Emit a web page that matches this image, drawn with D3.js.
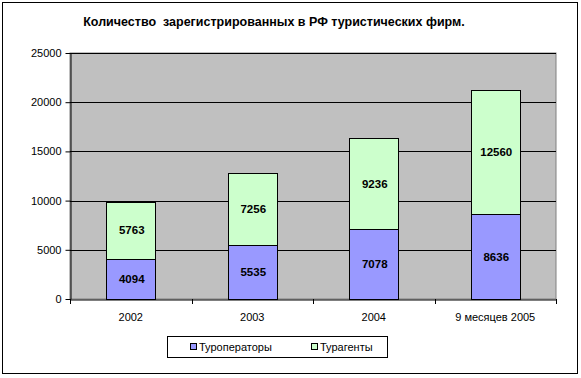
<!DOCTYPE html>
<html><head><meta charset="utf-8">
<script src="https://cdn.jsdelivr.net/npm/d3@7"></script>
<style>body{margin:0;background:#fff}svg{display:block}text{font-family:"Liberation Sans",Arial,sans-serif}</style>
</head><body>
<script>
const categories = ["2002","2003","2004","9 месяцев 2005"];
const touroperators = [4094,5535,7078,8636];
const touragents = [5763,7256,9236,12560];
const seriesNames = ["Туроператоры","Турагенты"];
const seriesColors = ["#9999FF","#CCFFCC"];
const yTicks = [0,5000,10000,15000,20000,25000];
const title = "Количество  зарегистрированных в РФ туристических фирм.";

const W=581,H=378;
const svg=d3.select("body").append("svg").attr("width",W).attr("height",H);
svg.append("rect").attr("x",2.5).attr("y",2.5).attr("width",575).attr("height",371).attr("fill","#fff").attr("stroke","#000").attr("stroke-width",1);

const L=70,R=556,T=53,B=299;
const x=d3.scaleBand().domain(categories).range([L,R]).paddingInner(0.6).paddingOuter(0.3);
const xs=d3.scaleBand().domain(categories).range([L,R]);
const y=d3.scaleLinear().domain([0,25000]).range([B,T]);

svg.append("rect").attr("x",L).attr("y",T).attr("width",R-L).attr("height",B-T).attr("fill","#C0C0C0").attr("stroke","#808080");
svg.append("g").selectAll("line").data(yTicks.slice(1)).join("line")
 .attr("x1",L).attr("x2",R).attr("y1",d=>Math.round(y(d))+0.5).attr("y2",d=>Math.round(y(d))+0.5).attr("stroke","#000");

const stack=d3.stack().keys([0,1]).value((d,k)=>k===0?d.a:d.b)(categories.map((c,i)=>({c,a:touroperators[i],b:touragents[i]})));
const g=svg.append("g");
stack.forEach((s,si)=>{
  g.selectAll(null).data(s).join("rect")
   .attr("x",d=>Math.round(x(d.data.c))+0.5).attr("width",Math.round(x.bandwidth()))
   .attr("y",d=>Math.round(y(d[1]))+0.5).attr("height",d=>Math.round(y(d[0]))-Math.round(y(d[1])))
   .attr("fill",seriesColors[si]).attr("stroke","#000");
  g.selectAll(null).data(s).join("text")
   .attr("x",d=>x(d.data.c)+x.bandwidth()/2+1).attr("y",d=>(y(d[0])+y(d[1]))/2+4)
   .attr("text-anchor","middle").attr("font-size","11.5px").attr("font-weight","bold")
   .text(d=>d[1]-d[0]);
});

const ya=svg.append("g").attr("transform",`translate(${L+0.5},0)`)
 .call(d3.axisLeft(y).tickValues(yTicks).tickSize(5).tickSizeOuter(0).tickFormat(d3.format("d")));
ya.select(".domain").attr("stroke","#000");
ya.selectAll("text").attr("font-size","11px").attr("font-family","Liberation Sans, Arial").attr("fill","#000").attr("dx","-1");
ya.selectAll("line").attr("stroke","#000");

const xa=svg.append("g").attr("transform",`translate(0,${B+0.5})`)
 .call(d3.axisBottom(xs).tickSize(0).tickSizeOuter(0));
xa.select(".domain").attr("stroke","#000");
xa.selectAll("text").attr("font-size","11px").attr("font-family","Liberation Sans, Arial").attr("fill","#000").attr("dy","1.7em");
svg.append("g").selectAll("line").data(categories).join("line")
 .attr("x1",d=>Math.round(xs(d))+0.5).attr("x2",d=>Math.round(xs(d))+0.5).attr("y1",B).attr("y2",B+5).attr("stroke","#000");
svg.append("line").attr("x1",R+0.5).attr("x2",R+0.5).attr("y1",B).attr("y2",B+5).attr("stroke","#000");

svg.append("text").attr("x",274).attr("y",26).attr("text-anchor","middle").attr("font-size","12.5px").attr("font-weight","bold").style("white-space","pre").text(title);

const lg=svg.append("g");
lg.append("rect").attr("x",167.5).attr("y",336.5).attr("width",220).attr("height",21).attr("fill","#fff").attr("stroke","#000");
const lx=[190,311];
seriesNames.forEach((n,i)=>{
  lg.append("rect").attr("x",lx[i]+0.5).attr("y",343.5).attr("width",6).attr("height",6).attr("fill",seriesColors[i]).attr("stroke","#000");
  lg.append("text").attr("x",lx[i]+9).attr("y",351).attr("font-size","11px").text(n);
});
</script>
</body></html>
